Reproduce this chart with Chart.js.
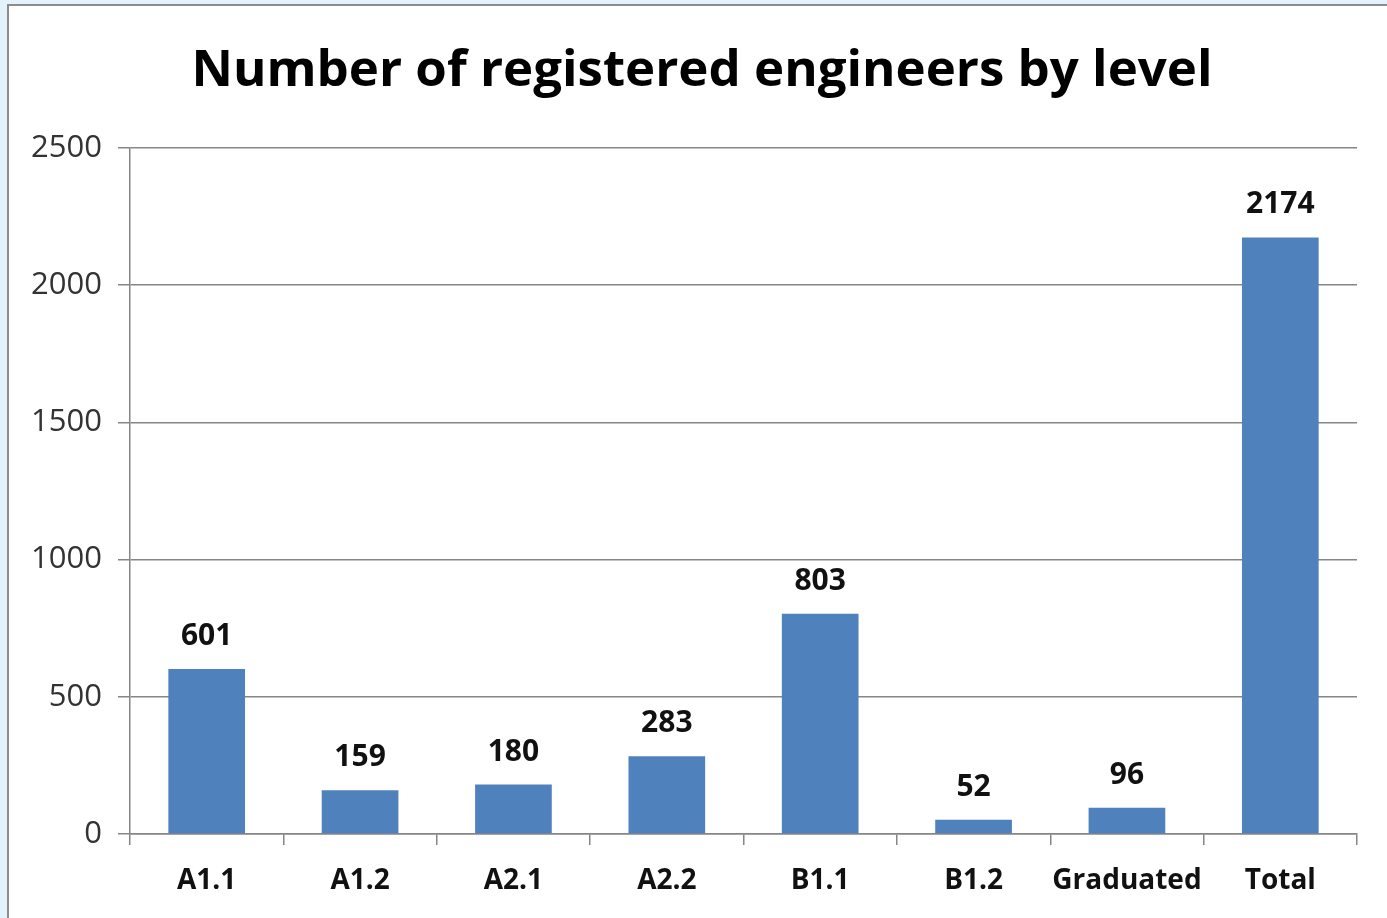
<!DOCTYPE html>
<html>
<head>
<meta charset="utf-8">
<title>Number of registered engineers by level</title>
<script src="https://cdn.jsdelivr.net/npm/chart.js@4"></script>
<style>
    html, body { margin: 0; padding: 0; }
    body {
        width: 1387px;
        height: 918px;
        overflow: hidden;
        position: relative;
        background: #e4f2fb;
    }
    .frame {
        position: absolute;
        left: 7px;
        top: 4px;
        width: 1400px;
        height: 940px;
        border: 2px solid #8c8c8c;
        background: #ffffff;
    }
    #chart {
        position: absolute;
        left: 0;
        top: 0;
    }
</style>
</head>
<body>
<div class="frame"></div>
<canvas id="chart" width="1387" height="918"></canvas>
<script>
const chartTitle = 'Number of registered engineers by level';
const levels = ['A1.1', 'A1.2', 'A2.1', 'A2.2', 'B1.1', 'B1.2', 'Graduated', 'Total'];
const engineers = [601, 159, 180, 283, 803, 52, 96, 2174];
const yTicks = [0, 500, 1000, 1500, 2000, 2500];

const FONT = "'Open Sans', 'Liberation Sans', sans-serif";
const GRID = '#868686';

// title sits a bit right of the canvas centre, like the original
const titleText = {
    id: 'titleText',
    afterDraw(chart) {
        const ctx = chart.ctx;
        ctx.save();
        ctx.font = `bold 51px ${FONT}`;
        ctx.fillStyle = '#000000';
        ctx.textAlign = 'center';
        ctx.textBaseline = 'middle';
        ctx.fillText(chartTitle, 702, 71);
        ctx.restore();
    }
};

// value labels above each bar
const barLabels = {
    id: 'barLabels',
    afterDatasetsDraw(chart) {
        const ctx = chart.ctx;
        const meta = chart.getDatasetMeta(0);
        ctx.save();
        ctx.font = `bold 30px ${FONT}`;
        ctx.fillStyle = '#111111';
        ctx.textAlign = 'center';
        ctx.textBaseline = 'alphabetic';
        meta.data.forEach((bar, i) => {
            ctx.fillText(String(engineers[i]), bar.x, bar.y - 24);
        });
        ctx.restore();
    }
};

new Chart(document.getElementById('chart'), {
    type: 'bar',
    data: {
        labels: levels,
        datasets: [{
            data: engineers,
            backgroundColor: '#4f81bd',
            borderWidth: 0,
            barPercentage: 0.5,
            categoryPercentage: 1.0
        }]
    },
    options: {
        responsive: false,
        animation: false,
        layout: {
            padding: { left: 0, right: 30, top: 148, bottom: 0 }
        },
        plugins: {
            legend: { display: false },
            tooltip: { enabled: false },
            title: { display: false }
        },
        scales: {
            x: {
                offset: true,
                border: { color: GRID, width: 1.5 },
                grid: {
                    offset: true,
                    drawOnChartArea: false,
                    drawTicks: true,
                    tickLength: 11,
                    color: GRID,
                    lineWidth: 1.5
                },
                ticks: {
                    color: '#111111',
                    padding: 19,
                    maxRotation: 0,
                    minRotation: 0,
                    autoSkip: false,
                    font: { family: FONT, size: 28, weight: 'bold' }
                },
                afterFit(scale) { scale.height = 84; }
            },
            y: {
                min: 0,
                max: 2500,
                border: { color: GRID, width: 1.5 },
                grid: {
                    color: GRID,
                    lineWidth: 1.5,
                    tickLength: 12
                },
                afterBuildTicks(scale) {
                    scale.ticks = yTicks.map(v => ({ value: v }));
                },
                ticks: {
                    color: '#333333',
                    padding: 16,
                    font: { family: FONT, size: 31 },
                    callback: (v) => String(v)
                },
                afterFit(scale) { scale.width = 130; }
            }
        }
    },
    plugins: [barLabels, titleText]
});
</script>
</body>
</html>
